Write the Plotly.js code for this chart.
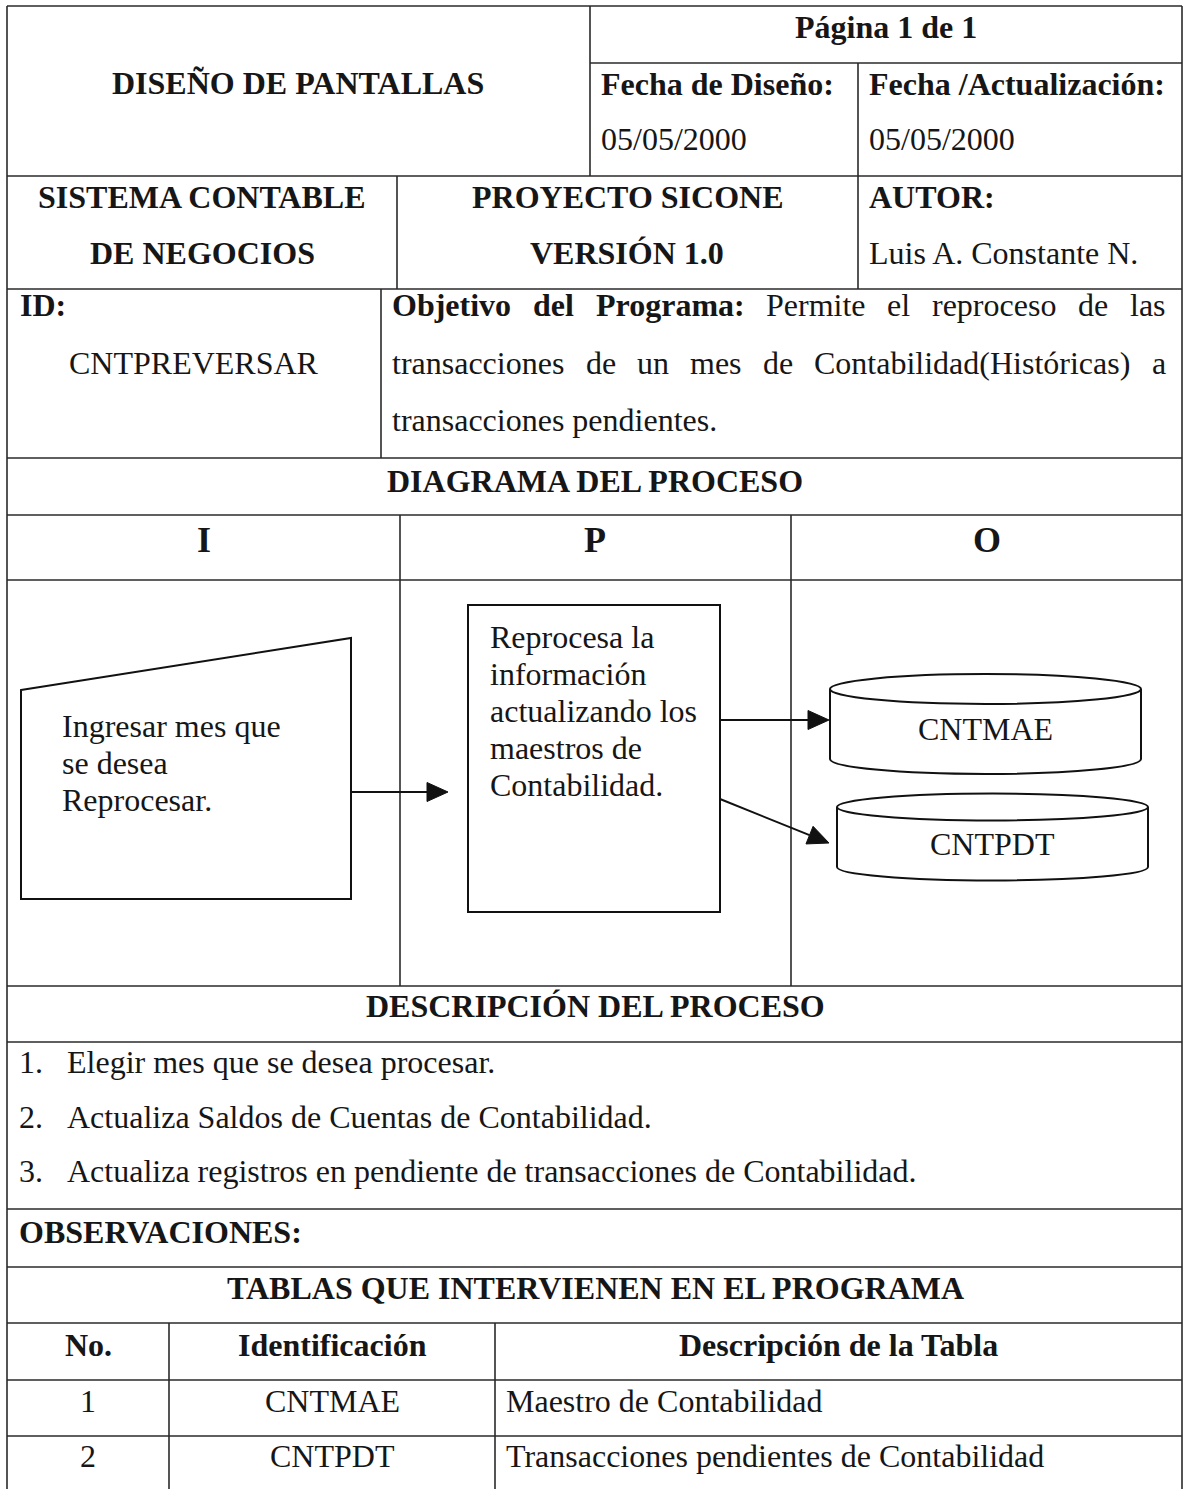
<!DOCTYPE html>
<html><head><meta charset="utf-8">
<script src="https://cdn.plot.ly/plotly-3.0.1.min.js"></script>
<style>html,body{margin:0;padding:0;background:#fff;overflow:hidden;}</style>
</head><body><div id="chart" style="width:1184px;height:1489px;"></div>
<script>
// ---------- content ----------
const docTitle = 'DISEÑO DE PANTALLAS';
const pageLabel = 'Página 1 de 1';
const dateLabels = ['Fecha de Diseño:', 'Fecha /Actualización:'];
const dateValues = ['05/05/2000', '05/05/2000'];
const systemLines = ['SISTEMA CONTABLE', 'DE NEGOCIOS'];
const projectLines = ['PROYECTO SICONE', 'VERSIÓN 1.0'];
const authorLines = ['AUTOR:', 'Luis A. Constante N.'];
const idLabel = 'ID:';
const programId = 'CNTPREVERSAR';
const objectiveBold = ['Objetivo', 'del', 'Programa:'];
const objectiveLines = ['Permite el reproceso de las',
  'transacciones de un mes de Contabilidad(Históricas) a',
  'transacciones pendientes.'];
const diagramTitle = 'DIAGRAMA DEL PROCESO';
const ipoHeaders = ['I', 'P', 'O'];
const inputLines = ['Ingresar mes que', 'se desea', 'Reprocesar.'];
const processLines = ['Reprocesa la', 'información', 'actualizando los', 'maestros de', 'Contabilidad.'];
const outputStores = ['CNTMAE', 'CNTPDT'];
const descTitle = 'DESCRIPCIÓN DEL PROCESO';
const stepNumbers = ['1.', '2.', '3.'];
const steps = ['Elegir mes que se desea procesar.',
  'Actualiza Saldos de Cuentas de Contabilidad.',
  'Actualiza registros en pendiente de transacciones de Contabilidad.'];
const obsLabel = 'OBSERVACIONES:';
const tablesTitle = 'TABLAS QUE INTERVIENEN EN EL PROGRAMA';
const tableHeaders = ['No.', 'Identificación', 'Descripción de la Tabla'];
const tableNo = ['1', '2'];
const tableIds = ['CNTMAE', 'CNTPDT'];
const tableDesc = ['Maestro de Contabilidad', 'Transacciones pendientes de Contabilidad'];

// ---------- layout geometry ----------
const W = 1184, H = 1489;
const L = 7, R = 1182;
const FONT = 'Liberation Serif';
const FS = 32;
const TXT = '#161616';
const LINE = '#2a2a2a';

const hLines = [ // [y, x0, x1]
  [6, L, R], [63, 590, R], [176, L, R], [289, L, R], [458, L, R], [515, L, R],
  [580, L, R], [986, L, R], [1042, L, R], [1209, L, R], [1267, L, R],
  [1323, L, R], [1380, L, R], [1436, L, R]
];
const vLines = [ // [x, y0, y1]
  [L, 6, H], [R, 6, H], [590, 6, 176], [858, 63, 289], [397, 176, 289],
  [381, 289, 458], [400, 515, 986], [791, 515, 986], [169, 1323, H], [495, 1323, H]
];

const shapes = [];
hLines.forEach(([y, a, b]) => shapes.push({type: 'line', xref: 'x', yref: 'y', x0: a, x1: b, y0: y, y1: y, line: {color: LINE, width: 1.6}}));
vLines.forEach(([x, a, b]) => shapes.push({type: 'line', xref: 'x', yref: 'y', x0: x, x1: x, y0: a, y1: b, line: {color: LINE, width: 1.6}}));

// manual input shape
shapes.push({type: 'path', xref: 'x', yref: 'y', path: 'M21,690 L351,638 L351,899 L21,899 Z', line: {color: '#111', width: 2}});
// process box
shapes.push({type: 'rect', xref: 'x', yref: 'y', x0: 468, x1: 720, y0: 605, y1: 912, line: {color: '#111', width: 2}});

function cylinder(x0, x1, yTop, yBot, ry) {
  const cx = (x0 + x1) / 2, rx = (x1 - x0) / 2, k = 0.5523;
  shapes.push({type: 'circle', xref: 'x', yref: 'y', x0: x0, x1: x1, y0: yTop - ry, y1: yTop + ry, line: {color: '#111', width: 2}});
  const p = `M${x0},${yTop} L${x0},${yBot} C${x0},${yBot + k * ry} ${cx - k * rx},${yBot + ry} ${cx},${yBot + ry} ` +
            `C${cx + k * rx},${yBot + ry} ${x1},${yBot + k * ry} ${x1},${yBot} L${x1},${yTop}`;
  shapes.push({type: 'path', xref: 'x', yref: 'y', path: p, line: {color: '#111', width: 2}});
}
cylinder(830, 1141, 689, 759, 15);
cylinder(837, 1148, 807, 867, 13.5);

function arrow(x0, y0, x1, y1) {
  const dx = x1 - x0, dy = y1 - y0, len = Math.hypot(dx, dy);
  const ux = dx / len, uy = dy / len, hl = 21, hw = 9.5;
  const bx = x1 - ux * hl, by = y1 - uy * hl;
  shapes.push({type: 'line', xref: 'x', yref: 'y', x0: x0, y0: y0, x1: bx, y1: by, line: {color: '#111', width: 2}});
  const p = `M${x1},${y1} L${bx - uy * hw},${by + ux * hw} L${bx + uy * hw},${by - ux * hw} Z`;
  shapes.push({type: 'path', xref: 'x', yref: 'y', path: p, fillcolor: '#111', line: {color: '#111', width: 1}});
}
arrow(351, 792, 448, 792);
arrow(720, 720, 829, 720);
arrow(720, 799, 829, 843);

// ---------- text ----------
const annotations = [];
function ann(text, x, y, anchor, opts) {
  opts = opts || {};
  annotations.push({
    text: opts.bold ? '<b>' + text + '</b>' : text,
    x: x, y: y, xref: 'x', yref: 'y', xanchor: anchor || 'center', yanchor: 'middle',
    showarrow: false, borderpad: 0,
    font: {family: FONT, size: opts.size || FS, color: TXT}
  });
}

ann(docTitle, 298, 83, 'center', {bold: true});
ann(pageLabel, 886, 27, 'center', {bold: true});
ann(dateLabels[0], 600, 84, 'left', {bold: true});
ann(dateLabels[1], 868, 84, 'left', {bold: true});
ann(dateValues[0], 600, 139, 'left');
ann(dateValues[1], 868, 139, 'left');
ann(systemLines[0], 202, 197, 'center', {bold: true});
ann(systemLines[1], 202, 253, 'center', {bold: true});
ann(projectLines[0], 627, 197, 'center', {bold: true});
ann(projectLines[1], 627, 253, 'center', {bold: true});
ann(authorLines[0], 868, 197, 'left', {bold: true});
ann(authorLines[1], 868, 253, 'left');
ann(idLabel, 19, 305, 'left', {bold: true});
ann(programId, 194, 363, 'center');

// justified objective text
const ctx = document.createElement('canvas').getContext('2d');
function measure(t, bold) {
  ctx.font = (bold ? 'bold ' : '') + FS + 'px "' + FONT + '"';
  return ctx.measureText(t).width;
}
function justify(words, x0, x1, y) {
  const widths = words.map(w => measure(w.t, w.b));
  const total = widths.reduce((a, b) => a + b, 0);
  const gap = (x1 - x0 - total) / (words.length - 1);
  let x = x0;
  words.forEach((w, i) => { ann(w.t, x, y, 'left', {bold: w.b}); x += widths[i] + gap; });
}
const objY = [305, 363, 420];
const line1 = objectiveBold.map(t => ({t: t, b: true})).concat(objectiveLines[0].split(' ').map(t => ({t: t, b: false})));
justify(line1, 391, 1165, objY[0]);
justify(objectiveLines[1].split(' ').map(t => ({t: t, b: false})), 391, 1165, objY[1]);
ann(objectiveLines[2], 391, objY[2], 'left');

ann(diagramTitle, 595, 481, 'center', {bold: true});
const ipoX = [204, 595, 987];
ipoHeaders.forEach((h, i) => ann(h, ipoX[i], 540, 'center', {bold: true, size: 36}));

inputLines.forEach((t, i) => ann(t, 61, 726 + i * 37, 'left'));
processLines.forEach((t, i) => ann(t, 489, 637 + i * 37, 'left'));
ann(outputStores[0], 985, 729, 'center');
ann(outputStores[1], 992, 844, 'center');

ann(descTitle, 595, 1006, 'center', {bold: true});
const stepY = [1062, 1117, 1171];
steps.forEach((t, i) => { ann(stepNumbers[i], 18, stepY[i], 'left'); ann(t, 66, stepY[i], 'left'); });

ann(obsLabel, 18, 1232, 'left', {bold: true});
ann(tablesTitle, 595, 1288, 'center', {bold: true});
const colCenters = [88, 332, 838];
tableHeaders.forEach((h, i) => ann(h, colCenters[i], 1345, 'center', {bold: true}));
const rowY = [1401, 1456];
tableNo.forEach((n, i) => {
  ann(n, colCenters[0], rowY[i], 'center');
  ann(tableIds[i], colCenters[1], rowY[i], 'center');
  ann(tableDesc[i], 505, rowY[i], 'left');
});

const layout = {
  width: W, height: H,
  margin: {l: 0, r: 0, t: 0, b: 0, pad: 0},
  paper_bgcolor: '#ffffff', plot_bgcolor: '#ffffff',
  xaxis: {range: [0, W], visible: false, fixedrange: true, showgrid: false, zeroline: false},
  yaxis: {range: [H, 0], visible: false, fixedrange: true, showgrid: false, zeroline: false},
  showlegend: false,
  shapes: shapes,
  annotations: annotations
};
Plotly.newPlot('chart', [{x: [], y: [], type: 'scatter', mode: 'markers', hoverinfo: 'skip'}], layout, {staticPlot: true, displayModeBar: false});
</script>
</body></html>
